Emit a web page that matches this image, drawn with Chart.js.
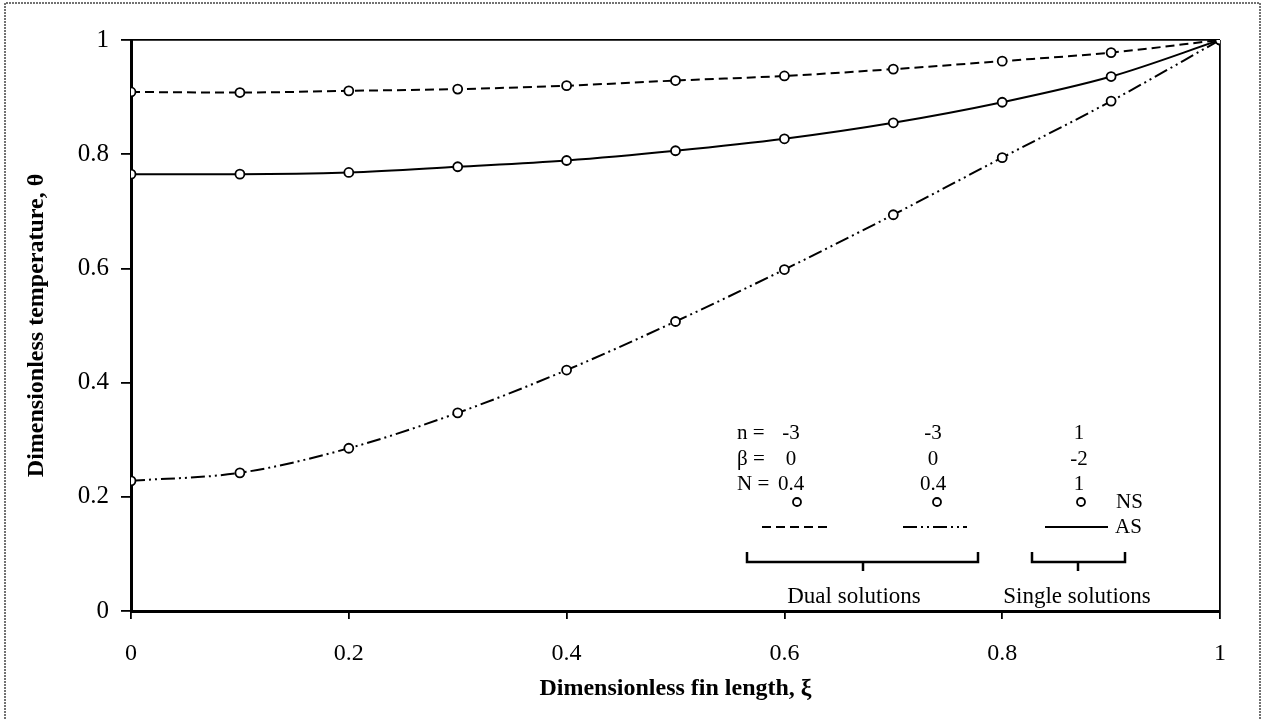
<!DOCTYPE html>
<html>
<head>
<meta charset="utf-8">
<script src="https://cdn.jsdelivr.net/npm/chart.js@4.4.0/dist/chart.umd.min.js"></script>
<style>
  html, body { margin: 0; padding: 0; background: #fff; }
  #wrap { width: 1265px; height: 719px; position: relative; }
</style>
</head>
<body>
<div id="wrap"><canvas id="c" width="1265" height="719"></canvas></div>
<script>
// fin length positions
const xi = [0, 0.1, 0.2, 0.3, 0.4, 0.5, 0.6, 0.7, 0.8, 0.9, 1];
// dual solution, upper branch (dashed)
const dualUpper = [0.909, 0.908, 0.911, 0.914, 0.920, 0.929, 0.937, 0.949, 0.963, 0.978, 1.0];
// dual solution, lower branch (dash-dot-dot)
const dualLower = [0.228, 0.242, 0.285, 0.347, 0.422, 0.507, 0.598, 0.694, 0.794, 0.893, 1.0];
// single solution (solid)
const single = [0.765, 0.765, 0.768, 0.778, 0.789, 0.806, 0.827, 0.855, 0.891, 0.936, 1.0];

// legend table
const legendN = ['-3', '-3', '1'];
const legendBeta = ['0', '0', '-2'];
const legendNN = ['0.4', '0.4', '1'];

const SERIF = '"Liberation Serif", "Times New Roman", serif';
const dashUpper = [9, 5];
const dashLower = [14, 4, 2, 4, 2, 4];

function pts(ys) { return xi.map((x, i) => ({ x, y: ys[i] })); }

function series(ys, dash) {
  return {
    data: pts(ys),
    borderColor: '#000',
    borderWidth: 2,
    borderDash: dash,
    cubicInterpolationMode: 'monotone',
    pointRadius: 4.5,
    pointBorderWidth: 1.8,
    pointBackgroundColor: '#fff',
    pointBorderColor: '#000',
    fill: false
  };
}

// annotation legend + outer frame
const legendPlugin = {
  id: 'legendBox',
  beforeDraw(chart) {
    const ctx = chart.ctx;
    ctx.save();
    ctx.fillStyle = '#fff';
    ctx.fillRect(0, 0, chart.width, chart.height);
    ctx.strokeStyle = '#444';
    ctx.lineWidth = 1.5;
    ctx.setLineDash([2, 1]);
    ctx.beginPath();
    ctx.moveTo(5, 725); ctx.lineTo(5, 3); ctx.lineTo(1260, 3); ctx.lineTo(1260, 725);
    ctx.stroke();
    ctx.restore();
  },
  afterDraw(chart) {
    const ctx = chart.ctx;
    ctx.save();
    ctx.fillStyle = '#000';
    ctx.strokeStyle = '#000';
    ctx.textBaseline = 'middle';
    ctx.font = '21px ' + SERIF;

    const rows = [['n =', legendN, 433], ['\u03b2 =', legendBeta, 459], ['N =', legendNN, 484]];
    const colX = [791, 933, 1079];
    rows.forEach(([lab, vals, y]) => {
      ctx.textAlign = 'left';
      ctx.fillText(lab, 737, y);
      ctx.textAlign = 'center';
      vals.forEach((v, i) => ctx.fillText(v, colX[i], y));
    });

    // NS markers
    ctx.lineWidth = 1.8;
    [797, 937, 1081].forEach(x => {
      ctx.beginPath(); ctx.arc(x, 502, 4, 0, Math.PI * 2); ctx.stroke();
    });
    ctx.textAlign = 'left';
    ctx.fillText('NS', 1116, 502);
    ctx.fillText('AS', 1115, 527);

    // AS line samples
    ctx.lineWidth = 2;
    [[762, 827, dashUpper], [903, 967, dashLower], [1045, 1108, []]].forEach(([a, b, d]) => {
      ctx.setLineDash(d);
      ctx.beginPath(); ctx.moveTo(a, 527); ctx.lineTo(b, 527); ctx.stroke();
    });
    ctx.setLineDash([]);

    // brackets
    ctx.lineWidth = 2.5;
    [[747, 978, 863], [1032, 1125, 1078]].forEach(([a, b, m]) => {
      ctx.beginPath();
      ctx.moveTo(a, 552); ctx.lineTo(a, 562); ctx.lineTo(b, 562); ctx.lineTo(b, 552);
      ctx.moveTo(m, 562); ctx.lineTo(m, 571);
      ctx.stroke();
    });

    ctx.font = '23px ' + SERIF;
    ctx.textAlign = 'center';
    ctx.fillText('Dual solutions', 854, 597);
    ctx.fillText('Single solutions', 1077, 597);
    ctx.restore();
  }
};

const edgeColor = (c) => (c.tick && c.tick.value === 1 ? '#000' : 'rgba(0,0,0,0)');

new Chart(document.getElementById('c'), {
  type: 'line',
  data: {
    datasets: [series(dualUpper, dashUpper), series(dualLower, dashLower), series(single, [])]
  },
  options: {
    responsive: false,
    animation: false,
    layout: { padding: { left: 0, right: 45, top: 40, bottom: 0 } },
    plugins: { legend: { display: false }, tooltip: { enabled: false } },
    scales: {
      x: {
        type: 'linear',
        min: 0, max: 1,
        afterFit: s => { s.height = 108; },
        border: { color: '#000', width: 3 },
        grid: { color: edgeColor, lineWidth: 1.8, tickColor: '#000', tickLength: 8, drawOnChartArea: true },
        ticks: {
          stepSize: 0.2, color: '#000', padding: 20,
          font: { family: SERIF, size: 24 },
          callback: v => String(+v.toFixed(1))
        },
        title: {
          display: true, text: 'Dimensionless fin length, \u03be', color: '#000',
          font: { family: SERIF, size: 24, weight: 'bold' }, padding: { top: 0, bottom: 16 }
        }
      },
      y: {
        min: 0, max: 1,
        afterFit: s => { s.width = 131; },
        border: { color: '#000', width: 3 },
        grid: { color: edgeColor, lineWidth: 1.8, tickColor: '#000', tickLength: 10, drawOnChartArea: true },
        ticks: {
          stepSize: 0.2, color: '#000', padding: 12,
          font: { family: SERIF, size: 25 },
          callback: v => String(+v.toFixed(1))
        },
        title: {
          display: true, text: 'Dimensionless temperature, \u03b8', color: '#000',
          font: { family: SERIF, size: 24, weight: 'bold' }, padding: { top: 22, bottom: 0 }
        }
      }
    }
  },
  plugins: [legendPlugin]
});
</script>
</body>
</html>
